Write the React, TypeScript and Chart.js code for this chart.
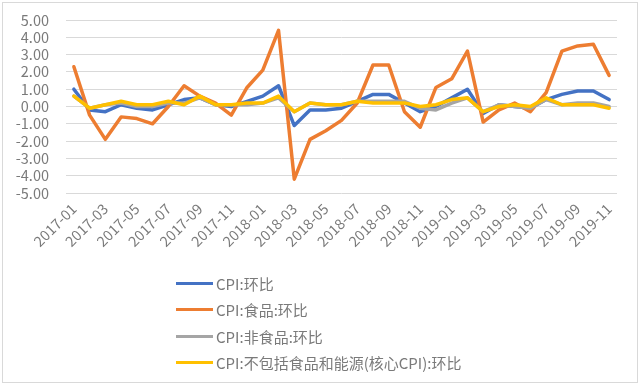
import React, { useEffect, useRef } from "react";
import { Chart, registerables } from "chart.js";

Chart.register(...registerables);

const months: string[] = [
  "2017-01","2017-02","2017-03","2017-04","2017-05","2017-06","2017-07","2017-08","2017-09","2017-10","2017-11","2017-12",
  "2018-01","2018-02","2018-03","2018-04","2018-05","2018-06","2018-07","2018-08","2018-09","2018-10","2018-11","2018-12",
  "2019-01","2019-02","2019-03","2019-04","2019-05","2019-06","2019-07","2019-08","2019-09","2019-10","2019-11",
];

const cpiMoM: number[] = [
  1.0, -0.2, -0.3, 0.1, -0.1, -0.2, 0.1, 0.4, 0.5, 0.1, 0.0, 0.3,
  0.6, 1.2, -1.1, -0.2, -0.2, -0.1, 0.3, 0.7, 0.7, 0.2, -0.3, 0.0,
  0.5, 1.0, -0.4, 0.1, 0.0, -0.1, 0.4, 0.7, 0.9, 0.9, 0.4,
];

const foodMoM: number[] = [
  2.3, -0.5, -1.9, -0.6, -0.7, -1.0, 0.0, 1.2, 0.6, 0.2, -0.5, 1.1,
  2.1, 4.4, -4.2, -1.9, -1.4, -0.8, 0.2, 2.4, 2.4, -0.3, -1.2, 1.1,
  1.6, 3.2, -0.9, -0.2, 0.2, -0.3, 0.8, 3.2, 3.5, 3.6, 1.8,
];

const nonFoodMoM: number[] = [
  0.6, -0.1, 0.1, 0.2, 0.0, 0.0, 0.2, 0.2, 0.5, 0.1, 0.1, 0.1,
  0.2, 0.5, -0.3, 0.2, 0.1, 0.1, 0.3, 0.3, 0.3, 0.3, -0.1, -0.2,
  0.2, 0.5, -0.3, 0.1, 0.0, -0.1, 0.4, 0.1, 0.2, 0.2, 0.0,
];

const coreMoM: number[] = [
  0.6, -0.1, 0.1, 0.3, 0.1, 0.1, 0.3, 0.1, 0.6, 0.1, 0.1, 0.2,
  0.2, 0.6, -0.3, 0.2, 0.1, 0.1, 0.3, 0.2, 0.2, 0.2, 0.0, 0.1,
  0.4, 0.5, -0.3, 0.0, 0.1, 0.0, 0.5, 0.1, 0.1, 0.1, -0.1,
];

const seriesNames: string[] = [
  "CPI:环比",
  "CPI:食品:环比",
  "CPI:非食品:环比",
  "CPI:不包括食品和能源(核心CPI):环比",
];

const seriesColors: string[] = ["#4472C4", "#ED7D31", "#A5A5A5", "#FFC000"];
const seriesData: number[][] = [cpiMoM, foodMoM, nonFoodMoM, coreMoM];

const FONT = "'Noto Sans CJK SC', 'Noto Sans', sans-serif";
const TEXT_COLOR = "#7a7a7a";

export default function App() {
  const canvasRef = useRef<HTMLCanvasElement | null>(null);

  useEffect(() => {
    document.body.style.margin = "0";
    const canvas = canvasRef.current;
    if (!canvas) return;
    const chart = new Chart(canvas, {
      type: "line",
      data: {
        labels: months,
        datasets: seriesData.map((d, i) => ({
          label: seriesNames[i],
          data: d,
          borderColor: seriesColors[i],
          backgroundColor: seriesColors[i],
          borderWidth: 3.5,
          pointRadius: 0,
          tension: 0,
          order: 4 - i,
          borderCapStyle: "round" as const,
          borderJoinStyle: "round" as const,
        })),
      },
      options: {
        animation: false,
        responsive: false,
        maintainAspectRatio: false,
        layout: { padding: { top: 20, left: 14, right: 23, bottom: 135 } },
        plugins: {
          legend: { display: false },
          tooltip: { enabled: false },
        },
        scales: {
          x: {
            offset: true,
            grid: { display: false, drawTicks: false },
            border: { display: false },
            afterFit: (s: any) => {
              s.paddingLeft = 0;
              s.paddingRight = 0;
              s.height = 57;
            },
            ticks: {
              autoSkip: false,
              minRotation: 45,
              maxRotation: 45,
              padding: 7,
              color: TEXT_COLOR,
              font: { family: FONT, size: 14.5 },
              callback: (_v: any, idx: number) => (idx % 2 === 0 ? months[idx] : ""),
            },
          },
          y: {
            min: -5,
            max: 5,
            grid: { color: "#D9D9D9", lineWidth: 1, drawTicks: false },
            border: { display: false },
            afterFit: (s: any) => {
              s.width = 52;
              s.paddingTop = 0;
              s.paddingBottom = 0;
            },
            ticks: {
              stepSize: 1,
              autoSkip: false,
              padding: 17,
              color: TEXT_COLOR,
              font: { family: FONT, size: 14.5 },
              callback: (v: any) => Number(v).toFixed(2),
            },
          },
        },
      },
    });
    return () => chart.destroy();
  }, []);

  return (
    <div style={{ position: "relative", width: 640, height: 385, background: "#fff", overflow: "hidden" }}>
      <div
        style={{
          position: "absolute",
          left: 2,
          top: 2,
          width: 634,
          height: 379,
          border: "1px solid #D9D9D9",
        }}
      />
      <canvas ref={canvasRef} width={640} height={385} style={{ position: "absolute", left: 0, top: 0 }} />
      <div style={{ position: "absolute", left: 176, top: 270, fontFamily: FONT, fontSize: 15, color: TEXT_COLOR }}>
        {seriesNames.map((name, i) => (
          <div key={name} style={{ display: "flex", alignItems: "center", height: 26.5, whiteSpace: "nowrap" }}>
            <span style={{ display: "inline-block", width: 37, height: 3, background: seriesColors[i], marginRight: 3 }} />
            <span>{name}</span>
          </div>
        ))}
      </div>
    </div>
  );
}
